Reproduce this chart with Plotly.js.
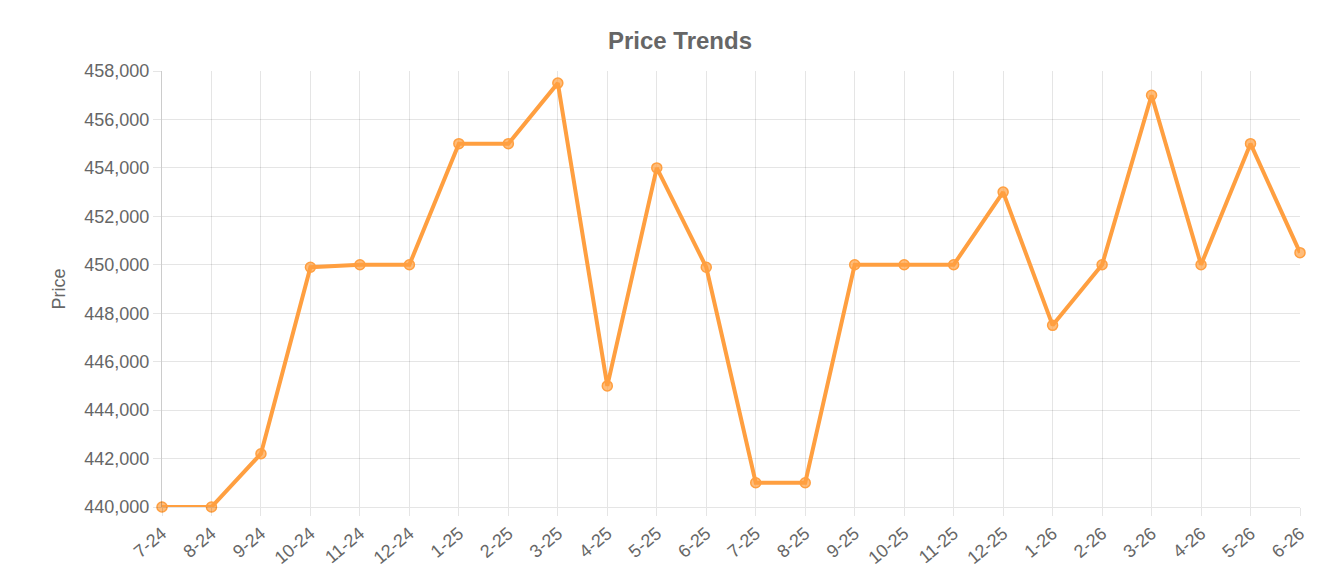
<!DOCTYPE html>
<html>
<head>
<meta charset="utf-8">
<script src="https://cdn.plot.ly/plotly-3.0.1.min.js"></script>
<style>
  html, body { margin: 0; padding: 0; background: #fff; }
  #chart { width: 1336px; height: 580px; }
</style>
</head>
<body>
<div id="chart"></div>
<script>
// months (M-YY) and prices
const months = ["7-24", "8-24", "9-24", "10-24", "11-24", "12-24",
  "1-25", "2-25", "3-25", "4-25", "5-25", "6-25",
  "7-25", "8-25", "9-25", "10-25", "11-25", "12-25",
  "1-26", "2-26", "3-26", "4-26", "5-26", "6-26"];
const prices = [440000, 440000, 442200, 449900, 450000, 450000,
  455000, 455000, 457500, 445000, 454000, 449900,
  441000, 441000, 450000, 450000, 450000, 453000,
  447500, 450000, 457000, 450000, 455000, 450500];
const yTicks = [440000, 442000, 444000, 446000, 448000, 450000, 452000, 454000, 456000, 458000];

const orange = "#FF9F40";
const grid = "rgba(0,0,0,0.1)";
const textColor = "#666";

const trace = {
  x: months,
  y: prices,
  type: "scatter",
  mode: "lines+markers",
  line: { color: orange, width: 4 },
  marker: {
    size: 10,
    color: "rgba(255,159,64,0.7)",
    line: { color: orange, width: 1.5 }
  },
  cliponaxis: false,
  hoverinfo: "x+y"
};

const layout = {
  width: 1336,
  height: 580,
  margin: { l: 162, r: 36, t: 71, b: 73 },
  paper_bgcolor: "#fff",
  plot_bgcolor: "#fff",
  showlegend: false,
  font: { family: "Liberation Sans, Arial, sans-serif", color: textColor, size: 18 },
  title: {
    text: "<b>Price Trends</b>",
    font: { size: 24, color: textColor },
    x: 680 / 1336, xanchor: "center",
    yref: "container", y: 1 - 41 / 580, yanchor: "middle"
  },
  xaxis: {
    type: "category",
    range: [0, months.length - 1],
    showgrid: true,
    gridcolor: grid,
    gridwidth: 1,
    zeroline: false,
    showline: true,
    linecolor: grid,
    ticks: "outside",
    ticklen: 8,
    tickcolor: grid,
    tickangle: -40,
    tickfont: { size: 18, color: textColor }
  },
  yaxis: {
    range: [440000, 458000],
    tickvals: yTicks,
    tickformat: ",d",
    showgrid: true,
    gridcolor: grid,
    zeroline: false,
    showline: true,
    linecolor: "rgba(0,0,0,0.2)",
    ticks: "outside",
    ticklen: 8,
    tickcolor: grid,
    tickfont: { size: 18, color: textColor },
    title: { text: "Price", font: { size: 18, color: textColor }, standoff: 14 }
  }
};

Plotly.newPlot("chart", [trace], layout, { displayModeBar: false, staticPlot: true });
</script>
</body>
</html>
